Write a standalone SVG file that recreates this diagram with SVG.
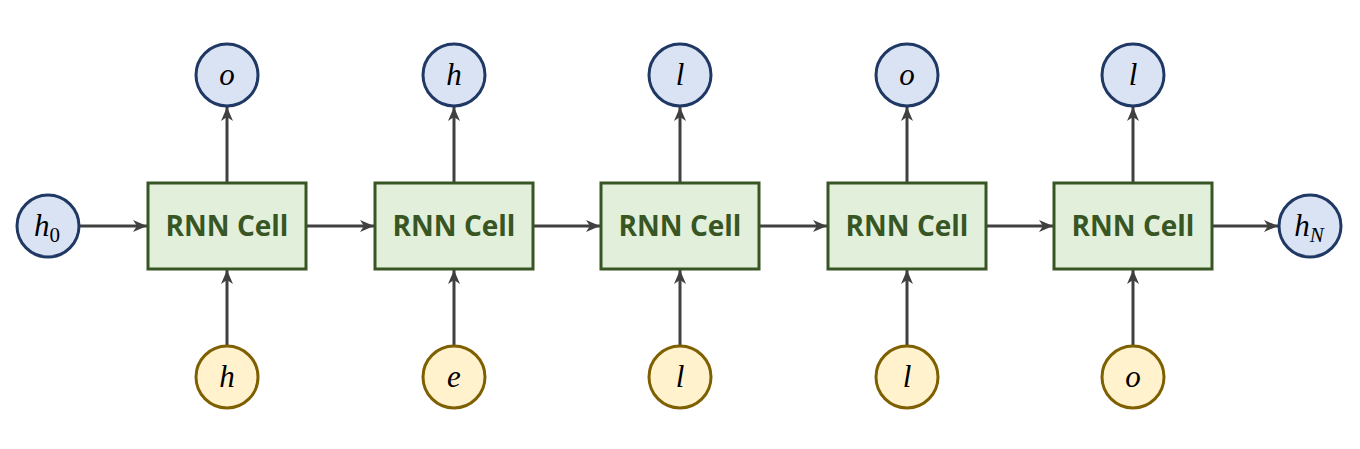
<svg xmlns="http://www.w3.org/2000/svg" width="1360" height="449" viewBox="0 0 1360 449">
<defs>
<marker id="ah" viewBox="0 0 14 12" refX="14" refY="6" markerWidth="14" markerHeight="12" markerUnits="userSpaceOnUse" orient="auto">
<path d="M0,0 L14,6 L0,12 L4,6 z" fill="#404040"/>
</marker>
<style>
.cell{fill:#e2efda;stroke:#375623;stroke-width:3}
.ct{font-family:"Open Sans","Liberation Sans",sans-serif;font-weight:bold;font-size:28px;fill:#375623;text-anchor:middle}
.bn{fill:#dae3f3;stroke:#1f3864;stroke-width:3}
.yn{fill:#fff2cc;stroke:#7f6000;stroke-width:3}
.m{font-family:"Liberation Serif","DejaVu Serif",serif;font-style:italic;font-size:31px;fill:#000;text-anchor:middle}
.s{font-size:21px}
.up{font-style:normal}
.c{stroke:#404040;stroke-width:3;fill:none;marker-end:url(#ah)}
</style>
</defs>
<g id="connectors">
<line class="c" x1="80" y1="226" x2="147" y2="226"/>
<line class="c" x1="307" y1="226" x2="374" y2="226"/>
<line class="c" x1="533" y1="226" x2="600" y2="226"/>
<line class="c" x1="760" y1="226" x2="827" y2="226"/>
<line class="c" x1="986" y1="226" x2="1053" y2="226"/>
<line class="c" x1="1212" y1="226" x2="1278" y2="226"/>
<line class="c" x1="227" y1="182" x2="227" y2="107"/>
<line class="c" x1="454" y1="182" x2="454" y2="107"/>
<line class="c" x1="680" y1="182" x2="680" y2="107"/>
<line class="c" x1="907" y1="182" x2="907" y2="107"/>
<line class="c" x1="1133" y1="182" x2="1133" y2="107"/>
<line class="c" x1="227" y1="345" x2="227" y2="270"/>
<line class="c" x1="454" y1="345" x2="454" y2="270"/>
<line class="c" x1="680" y1="345" x2="680" y2="270"/>
<line class="c" x1="907" y1="345" x2="907" y2="270"/>
<line class="c" x1="1133" y1="345" x2="1133" y2="270"/>
</g>
<g id="h0"><circle class="bn" cx="48" cy="226" r="31"/><text class="m" x="47" y="236">h<tspan class="s up" dy="6">0</tspan></text></g>
<g id="hN"><circle class="bn" cx="1310" cy="226" r="31"/><text class="m" x="1309" y="236">h<tspan class="s" dy="6">N</tspan></text></g>
<g id="cell1"><rect class="cell" x="148" y="183" width="158" height="86"/><text class="ct" x="227" y="236">RNN Cell</text></g>
<g id="cell2"><rect class="cell" x="375" y="183" width="158" height="86"/><text class="ct" x="454" y="236">RNN Cell</text></g>
<g id="cell3"><rect class="cell" x="601" y="183" width="158" height="86"/><text class="ct" x="680" y="236">RNN Cell</text></g>
<g id="cell4"><rect class="cell" x="828" y="183" width="158" height="86"/><text class="ct" x="907" y="236">RNN Cell</text></g>
<g id="cell5"><rect class="cell" x="1054" y="183" width="158" height="86"/><text class="ct" x="1133" y="236">RNN Cell</text></g>
<g id="out1"><circle class="bn" cx="227" cy="75" r="31"/><text class="m" x="227" y="85">o</text></g>
<g id="out2"><circle class="bn" cx="454" cy="75" r="31"/><text class="m" x="454" y="85">h</text></g>
<g id="out3"><circle class="bn" cx="680" cy="75" r="31"/><text class="m" x="680" y="85">l</text></g>
<g id="out4"><circle class="bn" cx="907" cy="75" r="31"/><text class="m" x="907" y="85">o</text></g>
<g id="out5"><circle class="bn" cx="1133" cy="75" r="31"/><text class="m" x="1133" y="85">l</text></g>
<g id="in1"><circle class="yn" cx="227" cy="377" r="31"/><text class="m" x="227" y="387">h</text></g>
<g id="in2"><circle class="yn" cx="454" cy="377" r="31"/><text class="m" x="454" y="387">e</text></g>
<g id="in3"><circle class="yn" cx="680" cy="377" r="31"/><text class="m" x="680" y="387">l</text></g>
<g id="in4"><circle class="yn" cx="907" cy="377" r="31"/><text class="m" x="907" y="387">l</text></g>
<g id="in5"><circle class="yn" cx="1133" cy="377" r="31"/><text class="m" x="1133" y="387">o</text></g>
</svg>
